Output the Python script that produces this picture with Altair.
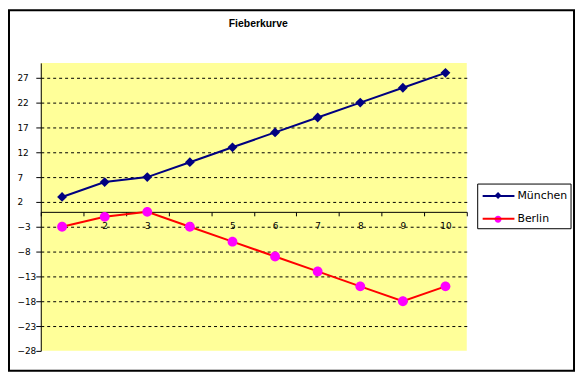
import altair as alt
import pandas as pd

tage = [1, 2, 3, 4, 5, 6, 7, 8, 9, 10]
muenchen = [3, 6, 7, 10, 13, 16, 19, 22, 25, 28]
berlin = [-3, -1, 0, -3, -6, -9, -12, -15, -18, -15]
serien = ["München", "Berlin"]
y_ticks = [-28, -23, -18, -13, -8, -3, 2, 7, 12, 17, 22, 27]

rows = []
for t, m in zip(tage, muenchen):
    rows.append({"tag": t, "wert": m, "serie": "München"})
for t, b in zip(tage, berlin):
    rows.append({"tag": t, "wert": b, "serie": "Berlin"})
df = pd.DataFrame(rows)

W, H = 429, 290
band = W / len(tage)
font = "DejaVu Sans"

DIAMOND = "M0,-0.7L0.7,0L0,0.7L-0.7,0Z"
CIRCLE = "M-0.7,0A0.7,0.7,0,1,1,0.7,0A0.7,0.7,0,1,1,-0.7,0Z"
LINE = "M-3.2,0H3.2"

x_vals = [t - 0.5 for t in tage] + [tage[-1] + 0.5]
x_enc = alt.X(
    "tag:Q",
    scale=alt.Scale(domain=[0.5, len(tage) + 0.5], nice=False, zero=False),
    axis=alt.Axis(
        values=x_vals,
        tickCount=len(x_vals),
        labelExpr="datum.value < 10 ? '' + (datum.value + 0.5) : ''",
        labelOffset=band / 2,
        offset=-140,
        tickSize=4,
        tickColor="black",
        domainColor="black",
        grid=False,
        title=None,
        labelFont=font,
        labelFontSize=9,
        labelColor="black",
        labelPadding=6,
        labelFlush=False,
        labelOverlap=False,
        zindex=0,
    ),
)
y_enc = alt.Y(
    "wert:Q",
    scale=alt.Scale(domain=[-28, 30], nice=False, zero=False),
    axis=alt.Axis(
        values=y_ticks,
        tickCount=len(y_ticks),
        tickSize=5,
        tickColor="black",
        domainColor="black",
        grid=True,
        gridColor="black",
        gridDash=[3, 3],
        gridOpacity={"condition": {"test": "datum.value === -28", "value": 0}, "value": 1},
        title=None,
        labelFont=font,
        labelFontSize=9,
        labelColor="black",
        labelAlign="left",
        labelPadding=19,
        labelOverlap=False,
        labelFlush=False,
        zindex=0,
    ),
)

common = dict(
    orient="none", legendX=455, legendY=128, title=None,
    symbolSize=100, labelFont=font, labelFontSize=11, labelOffset=13,
    padding=0, rowPadding=12,
)
line_legend = alt.Legend(symbolType=LINE, symbolStrokeWidth=2, labelColor="black", **common)
point_legend = alt.Legend(symbolStrokeWidth=1, labelColor="transparent", **common)

lines = alt.Chart(df).mark_line(strokeWidth=2).encode(
    x=x_enc, y=y_enc,
    stroke=alt.Stroke("serie:N", scale=alt.Scale(domain=serien, range=["#000080", "#FF0000"]), legend=line_legend),
    detail="serie:N",
)
points = alt.Chart(df).mark_point(filled=True, size=200, opacity=1, strokeWidth=1).encode(
    x="tag:Q", y="wert:Q",
    fill=alt.Fill("serie:N", scale=alt.Scale(domain=serien, range=["#000080", "#FF00FF"]), legend=point_legend),
    shape=alt.Shape("serie:N", scale=alt.Scale(domain=serien, range=[DIAMOND, CIRCLE]), legend=point_legend),
)

one = pd.DataFrame({"a": [0]})
titel = alt.Chart(one).mark_text(font="Liberation Sans", fontSize=10.5, fontWeight="bold", color="black",
                                 baseline="middle", align="center").encode(
    x=alt.value(219), y=alt.value(-39), text=alt.value("Fieberkurve")
)
rahmen = alt.Chart(one).mark_rect(fill=None, stroke="black", strokeWidth=2).encode(
    x=alt.value(-32), x2=alt.value(537), y=alt.value(-53), y2=alt.value(310)
)
legendenrahmen = alt.Chart(one).mark_rect(fill="white", stroke="black", strokeWidth=1).encode(
    x=alt.value(440), x2=alt.value(534), y=alt.value(122), y2=alt.value(167)
)

chart = alt.layer(rahmen, legendenrahmen, titel, lines, points).resolve_scale(stroke="independent").properties(
    width=W, height=H,
    autosize=alt.AutoSizeParams(type="none"),
    padding={"left": 33, "top": 54, "right": 110, "bottom": 22},
    background="white",
).configure_view(fill="#FFFF99", stroke=None)

chart.save("out.html", embed_options={"renderer": "svg", "actions": False})
